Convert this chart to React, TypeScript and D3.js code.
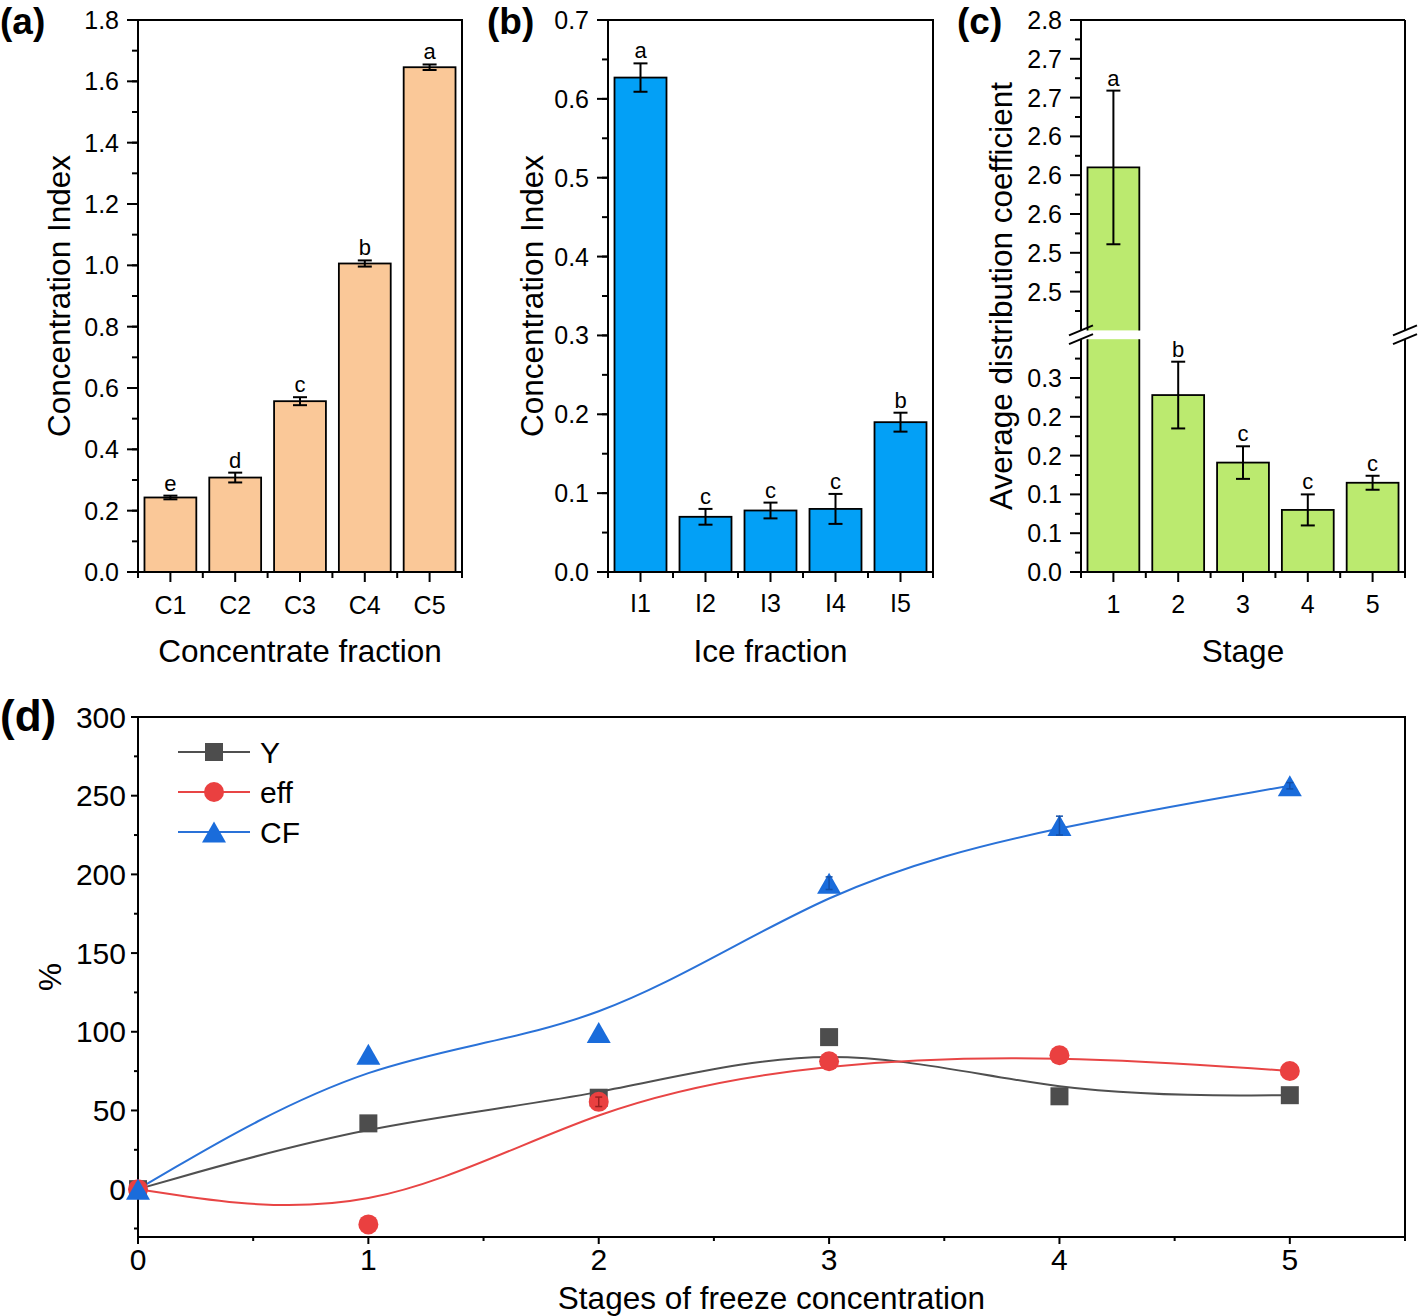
import React from "react";
import * as d3 from "d3";

// ---------- Data ----------
const catsA = ["C1", "C2", "C3", "C4", "C5"];
const valsA = [0.243, 0.308, 0.557, 1.006, 1.646];
const errA = [0.006, 0.016, 0.013, 0.01, 0.009];
const lettersA = ["e", "d", "c", "b", "a"];
const yTicksA = [0, 0.2, 0.4, 0.6, 0.8, 1.0, 1.2, 1.4, 1.6, 1.8];

const catsB = ["I1", "I2", "I3", "I4", "I5"];
const valsB = [0.627, 0.07, 0.078, 0.08, 0.19];
const errB = [0.018, 0.01, 0.01, 0.019, 0.012];
const lettersB = ["a", "c", "c", "c", "b"];
const yTicksB = [0, 0.1, 0.2, 0.3, 0.4, 0.5, 0.6, 0.7];

const catsC = ["1", "2", "3", "4", "5"];
const valsC = [2.61, 0.228, 0.141, 0.08, 0.115];
const errC = [0.099, 0.043, 0.021, 0.02, 0.009];
const lettersC = ["a", "b", "c", "c", "c"];
const lowTicksC = [0, 0.05, 0.1, 0.15, 0.2, 0.25];
const lowTickLabelsC = ["0.0", "0.1", "0.1", "0.2", "0.2", "0.3"];
const upTicksC = [2.45, 2.5, 2.55, 2.6, 2.65, 2.7, 2.75, 2.8];
const upTickLabelsC = ["2.5", "2.5", "2.6", "2.6", "2.6", "2.7", "2.7", "2.8"];

const stages = [0, 1, 2, 3, 4, 5];
const seriesYv = [0, 41.8, 58.1, 96.6, 59.0, 59.7];
const seriesEff = [0, -22.4, 55.5, 81.3, 85.1, 75.1];
const seriesCF = [0, 85.7, 99.5, 194.4, 231.0, 256.3];
const errYv = [0, 0, 0, 0, 0, 0];
const errEff = [0, 0, 3, 0, 0, 0];
const errCF = [0, 0, 0, 4, 6, 2];
const xTicksD = [0, 1, 2, 3, 4, 5];
const yTicksD = [0, 50, 100, 150, 200, 250, 300];

// ---------- Style ----------
const FONT = "'Liberation Sans', Arial, Helvetica, sans-serif";
const TICK_FS = 25;
const TITLE_FS = 31.5;
const LETTER_FS = 22;

function ErrBar({ x, y1, y2, cap = 14, color = "#000", sw = 2 }) {
  return (
    <g stroke={color} strokeWidth={sw}>
      <line x1={x} x2={x} y1={y1} y2={y2} />
      <line x1={x - cap / 2} x2={x + cap / 2} y1={y1} y2={y1} />
      <line x1={x - cap / 2} x2={x + cap / 2} y1={y2} y2={y2} />
    </g>
  );
}

function XCatAxis({ x, cats, bottom, labelBase }) {
  const step = x.step();
  const left = x.range()[0];
  const bounds = d3.range(cats.length + 1).map((i) => left + i * step);
  return (
    <g>
      {bounds.map((b, i) => (
        <line key={"mb" + i} x1={b} x2={b} y1={bottom} y2={bottom + 6} stroke="#000" strokeWidth={2} />
      ))}
      {cats.map((c) => {
        const cx = x(c) + x.bandwidth() / 2;
        return (
          <g key={c}>
            <line x1={cx} x2={cx} y1={bottom} y2={bottom + 10} stroke="#000" strokeWidth={2} />
            <text x={cx} y={labelBase} textAnchor="middle" fontSize={TICK_FS} fontFamily={FONT}>
              {c}
            </text>
          </g>
        );
      })}
    </g>
  );
}

function BarPanel({ left, right, top, bottom, cats, vals, errs, letters, color, yMax, ticks, minorStep, fmt, xTitle, yTitleX, labelBase }) {
  const x = d3.scaleBand().domain(cats).range([left, right]).paddingInner(0.2).paddingOuter(0.1);
  const y = d3.scaleLinear().domain([0, yMax]).range([bottom, top]);
  const minors = d3.range(0, yMax + 1e-9, minorStep);
  return (
    <g>
      {cats.map((c, i) => {
        const bx = x(c);
        const cx = bx + x.bandwidth() / 2;
        return (
          <g key={c}>
            <rect x={bx} y={y(vals[i])} width={x.bandwidth()} height={bottom - y(vals[i])} fill={color} stroke="#000" strokeWidth={1.8} />
            <ErrBar x={cx} y1={y(vals[i] + errs[i])} y2={y(vals[i] - errs[i])} />
            <text x={cx} y={y(vals[i] + errs[i]) - 5} textAnchor="middle" fontSize={LETTER_FS} fontFamily={FONT}>
              {letters[i]}
            </text>
          </g>
        );
      })}
      <rect x={left} y={top} width={right - left} height={bottom - top} fill="none" stroke="#000" strokeWidth={2} />
      {minors.map((m, i) => (
        <line key={"m" + i} x1={left - 6} x2={left} y1={y(m)} y2={y(m)} stroke="#000" strokeWidth={2} />
      ))}
      {ticks.map((t) => (
        <g key={t}>
          <line x1={left - 11} x2={left} y1={y(t)} y2={y(t)} stroke="#000" strokeWidth={2} />
          <text x={left - 19} y={y(t) + 9} textAnchor="end" fontSize={TICK_FS} fontFamily={FONT}>
            {fmt(t)}
          </text>
        </g>
      ))}
      <XCatAxis x={x} cats={cats} bottom={bottom} labelBase={labelBase} />
      <text x={(left + right) / 2} y={bottom + 90} textAnchor="middle" fontSize={TITLE_FS} fontFamily={FONT}>
        {xTitle}
      </text>
      <text transform={`translate(${yTitleX},${(top + bottom) / 2}) rotate(-90)`} textAnchor="middle" fontSize={TITLE_FS} fontFamily={FONT}>
        Concentration Index
      </text>
    </g>
  );
}

function PanelC() {
  const left = 1081, right = 1405, top = 20, bottom = 572;
  const pxPerUnit = 776;
  const lowMax = 0.3;
  const upMin = 2.4, upMax = 2.8;
  const yLow = d3.scaleLinear().domain([0, lowMax]).range([bottom, bottom - lowMax * pxPerUnit]);
  const yUp = d3.scaleLinear().domain([upMin, upMax]).range([top + (upMax - upMin) * pxPerUnit, top]);
  const gapTop = yUp(upMin);
  const gapBot = yLow(lowMax);
  const yC = (v) => (v <= lowMax ? yLow(v) : yUp(v));
  const x = d3.scaleBand().domain(catsC).range([left, right]).paddingInner(0.2).paddingOuter(0.1);
  const lowMinor = d3.range(0.025, lowMax, 0.05);
  const upMinor = d3.range(upMin + 0.025, upMax, 0.05);
  const breakMark = (cx) => (
    <g stroke="#000" strokeWidth={2}>
      <line x1={cx - 12} y1={gapTop + 5} x2={cx + 12} y2={gapTop - 5} />
      <line x1={cx - 12} y1={gapBot + 5} x2={cx + 12} y2={gapBot - 5} />
    </g>
  );
  return (
    <g>
      {catsC.map((c, i) => {
        const bx = x(c);
        const w = x.bandwidth();
        const cx = bx + w / 2;
        const v = valsC[i];
        if (v > lowMax) {
          const yt = yUp(v);
          return (
            <g key={c}>
              <rect x={bx} y={gapBot} width={w} height={bottom - gapBot} fill="#BBEA6F" />
              <rect x={bx} y={yt} width={w} height={gapTop - yt} fill="#BBEA6F" />
              <path d={`M${bx},${gapBot}V${bottom}H${bx + w}V${gapBot}M${bx},${gapTop}V${yt}H${bx + w}V${gapTop}`} fill="none" stroke="#000" strokeWidth={1.8} />
              <ErrBar x={cx} y1={yUp(v + errC[i])} y2={yUp(v - errC[i])} />
              <text x={cx} y={yUp(v + errC[i]) - 5} textAnchor="middle" fontSize={LETTER_FS} fontFamily={FONT}>
                {lettersC[i]}
              </text>
            </g>
          );
        }
        return (
          <g key={c}>
            <rect x={bx} y={yC(v)} width={w} height={bottom - yC(v)} fill="#BBEA6F" stroke="#000" strokeWidth={1.8} />
            <ErrBar x={cx} y1={yC(v + errC[i])} y2={yC(v - errC[i])} />
            <text x={cx} y={yC(v + errC[i]) - 5} textAnchor="middle" fontSize={LETTER_FS} fontFamily={FONT}>
              {lettersC[i]}
            </text>
          </g>
        );
      })}
      <g stroke="#000" strokeWidth={2} fill="none">
        <line x1={left} x2={right} y1={top} y2={top} />
        <line x1={left} x2={right} y1={bottom} y2={bottom} />
        <line x1={left} x2={left} y1={top} y2={gapTop} />
        <line x1={left} x2={left} y1={gapBot} y2={bottom} />
        <line x1={right} x2={right} y1={top} y2={gapTop} />
        <line x1={right} x2={right} y1={gapBot} y2={bottom} />
      </g>
      {breakMark(left)}
      {breakMark(right)}
      {lowMinor.map((m, i) => (
        <line key={"lm" + i} x1={left - 6} x2={left} y1={yLow(m)} y2={yLow(m)} stroke="#000" strokeWidth={2} />
      ))}
      {upMinor.map((m, i) => (
        <line key={"um" + i} x1={left - 6} x2={left} y1={yUp(m)} y2={yUp(m)} stroke="#000" strokeWidth={2} />
      ))}
      {lowTicksC.map((t, i) => (
        <g key={"lt" + i}>
          <line x1={left - 11} x2={left} y1={yLow(t)} y2={yLow(t)} stroke="#000" strokeWidth={2} />
          <text x={left - 19} y={yLow(t) + 9} textAnchor="end" fontSize={TICK_FS} fontFamily={FONT}>
            {lowTickLabelsC[i]}
          </text>
        </g>
      ))}
      {upTicksC.map((t, i) => (
        <g key={"ut" + i}>
          <line x1={left - 11} x2={left} y1={yUp(t)} y2={yUp(t)} stroke="#000" strokeWidth={2} />
          <text x={left - 19} y={yUp(t) + 9} textAnchor="end" fontSize={TICK_FS} fontFamily={FONT}>
            {upTickLabelsC[i]}
          </text>
        </g>
      ))}
      <XCatAxis x={x} cats={catsC} bottom={bottom} labelBase={613} />
      <text x={(left + right) / 2} y={662} textAnchor="middle" fontSize={TITLE_FS} fontFamily={FONT}>
        Stage
      </text>
      <text transform={`translate(1012,${(top + bottom) / 2}) rotate(-90)`} textAnchor="middle" fontSize={TITLE_FS} fontFamily={FONT}>
        Average distribution coefficient
      </text>
    </g>
  );
}

function Marker({ kind, x, y, color }) {
  if (kind === "square") return <rect x={x - 9} y={y - 9} width={18} height={18} fill={color} />;
  if (kind === "circle") return <circle cx={x} cy={y} r={10} fill={color} />;
  return <path d={`M${x},${y - 10.5}L${x + 12},${y + 10.5}L${x - 12},${y + 10.5}Z`} fill={color} />;
}

function PanelD() {
  const left = 138, right = 1405, top = 717, bottom = 1237;
  const x = d3.scaleLinear().domain([0, 5.5]).range([left, right]);
  const y = d3.scaleLinear().domain([-30.4, 300]).range([bottom, top]);
  const line = d3
    .line()
    .x((d) => x(d[0]))
    .y((d) => y(d[1]))
    .curve(d3.curveBasis);
  const series = [
    { name: "Y", vals: seriesYv, errs: errYv, color: "#4d4d4d", lineColor: "#505050", kind: "square", errColor: "#2a2a2a" },
    { name: "eff", vals: seriesEff, errs: errEff, color: "#EA4040", lineColor: "#E84545", kind: "circle", errColor: "#9a2020" },
    { name: "CF", vals: seriesCF, errs: errCF, color: "#1A6CDB", lineColor: "#2A72D8", kind: "triangle", errColor: "#1450a8" },
  ];
  const yMinor = d3.range(-25, 300, 50);
  const xMinor = d3.range(0.5, 5.6, 1);
  return (
    <g>
      <rect x={left} y={top} width={right - left} height={bottom - top} fill="none" stroke="#000" strokeWidth={2} />
      {yMinor.map((m) => (
        <line key={"ym" + m} x1={left - 4} x2={left} y1={y(m)} y2={y(m)} stroke="#000" strokeWidth={2} />
      ))}
      {yTicksD.map((t) => (
        <g key={"yt" + t}>
          <line x1={left - 7} x2={left} y1={y(t)} y2={y(t)} stroke="#000" strokeWidth={2} />
          <text x={left - 12} y={y(t) + 10.5} textAnchor="end" fontSize={30} fontFamily={FONT}>
            {t}
          </text>
        </g>
      ))}
      {xMinor.map((m) => (
        <line key={"xm" + m} x1={x(m)} x2={x(m)} y1={bottom} y2={bottom + 4} stroke="#000" strokeWidth={2} />
      ))}
      {xTicksD.map((t) => (
        <g key={"xt" + t}>
          <line x1={x(t)} x2={x(t)} y1={bottom} y2={bottom + 7} stroke="#000" strokeWidth={2} />
          <text x={x(t)} y={1270} textAnchor="middle" fontSize={30} fontFamily={FONT}>
            {t}
          </text>
        </g>
      ))}
      {series.map((s) => (
        <path key={"l" + s.name} d={line(stages.map((st, i) => [st, s.vals[i]]))} fill="none" stroke={s.lineColor} strokeWidth={2} />
      ))}
      {series.map((s) => (
        <g key={"m" + s.name}>
          {stages.map((st, i) => (
            <Marker key={i} kind={s.kind} x={x(st)} y={y(s.vals[i])} color={s.color} />
          ))}
          {stages.map((st, i) =>
            s.errs[i] > 0 ? (
              <ErrBar key={"e" + i} x={x(st)} y1={y(s.vals[i] + s.errs[i])} y2={y(s.vals[i] - s.errs[i])} cap={7} sw={1.5} color={s.errColor} />
            ) : null
          )}
        </g>
      ))}
      {series.map((s, i) => {
        const ly = 752 + i * 40;
        return (
          <g key={"lg" + s.name}>
            <line x1={178} x2={250} y1={ly} y2={ly} stroke={s.lineColor} strokeWidth={2} />
            <Marker kind={s.kind} x={214} y={ly} color={s.color} />
            <text x={260} y={ly + 11} fontSize={30} fontFamily={FONT}>
              {s.name}
            </text>
          </g>
        );
      })}
      <text x={(left + right) / 2} y={1309} textAnchor="middle" fontSize={TITLE_FS} fontFamily={FONT}>
        Stages of freeze concentration
      </text>
      <text transform={`translate(61,${(top + bottom) / 2}) rotate(-90)`} textAnchor="middle" fontSize={TITLE_FS} fontFamily={FONT}>
        %
      </text>
    </g>
  );
}

export default function App() {
  return (
    <svg width={1418} height={1316} style={{ position: "absolute", left: 0, top: 0, background: "#fff" }} fontFamily={FONT}>
      <rect x={0} y={0} width={1418} height={1316} fill="#fff" />
      <BarPanel
        left={138} right={462} top={20} bottom={572}
        cats={catsA} vals={valsA} errs={errA} letters={lettersA} color="#FAC898"
        yMax={1.8} ticks={yTicksA} minorStep={0.1} fmt={d3.format(".1f")}
        xTitle="Concentrate fraction" yTitleX={70} labelBase={614}
      />
      <BarPanel
        left={608} right={933} top={20} bottom={572}
        cats={catsB} vals={valsB} errs={errB} letters={lettersB} color="#03A0F6"
        yMax={0.7} ticks={yTicksB} minorStep={0.05} fmt={d3.format(".1f")}
        xTitle="Ice fraction" yTitleX={543} labelBase={612}
      />
      <PanelC />
      <PanelD />
      <text x={0} y={34} fontSize={37} fontWeight="bold" fontFamily={FONT}>(a)</text>
      <text x={487} y={34} fontSize={37} fontWeight="bold" fontFamily={FONT}>(b)</text>
      <text x={957} y={34} fontSize={37} fontWeight="bold" fontFamily={FONT}>(c)</text>
      <text x={0} y={731} fontSize={44} fontWeight="bold" fontFamily={FONT}>(d)</text>
    </svg>
  );
}
